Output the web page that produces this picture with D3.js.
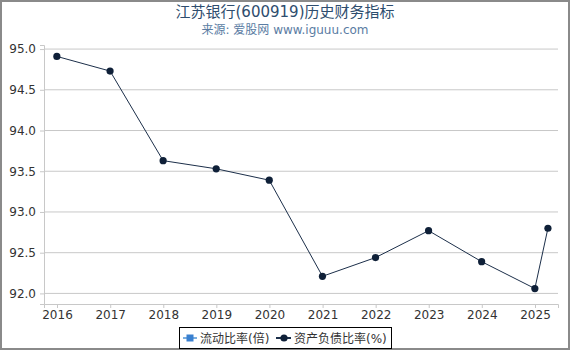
<!DOCTYPE html>
<html><head><meta charset="utf-8">
<script src="https://cdn.jsdelivr.net/npm/d3@7/dist/d3.min.js"></script>
<style>
body{margin:0;background:#fff;}
svg{display:block;font-family:"DejaVu Sans","Noto Sans CJK SC",sans-serif;}
</style></head><body>
<svg id="c" width="570" height="350"></svg>
<script>
const dates = ["2015-12-31","2016-12-31","2017-12-31","2018-12-31","2019-12-31","2020-12-31","2021-12-31","2022-12-31","2023-12-31","2024-12-31","2025-03-31"];
const debtRatio = [94.91,94.73,93.63,93.53,93.39,92.21,92.44,92.77,92.39,92.06,92.80];
const currentRatio = [];
const yTicks = [92.0,92.5,93.0,93.5,94.0,94.5,95.0];
const xTickYears = [2016,2017,2018,2019,2020,2021,2022,2023,2024,2025];
const seriesNames = ["流动比率(倍)","资产负债比率(%)"];

(function(){
const svg = d3.select("#c");
const W=570,H=350;
svg.append("rect").attr("x",1).attr("y",1).attr("width",W-2).attr("height",H-2).attr("fill","#fff").attr("stroke","#8a8a8a").attr("stroke-width",2);

svg.append("text").attr("x",285).attr("y",17).attr("text-anchor","middle").attr("font-size",15).attr("fill","#2e4d6e").text("江苏银行(600919)历史财务指标");
svg.append("text").attr("x",285).attr("y",34).attr("text-anchor","middle").attr("font-size",12).attr("fill","#5a7ca3").text("来源: 爱股网 www.iguuu.com");

const pl=44,pr=558,pt=45,pb=304;
const parse=d3.timeParse("%Y-%m-%d");
const x=d3.scaleTime().domain([new Date(2016,0,1),new Date(2025,0,1)]).range([57,535]);
const x0=x.invert(pl), x1=x.invert(pr);
x.domain([x0,x1]).range([pl,pr]);
const y=d3.scaleLinear().domain([91.87,95.05]).range([pb,pt]);

svg.append("g").selectAll("line").data(yTicks).join("line")
 .attr("x1",pl).attr("x2",pr).attr("y1",d=>y(d)).attr("y2",d=>y(d))
 .attr("stroke","#c8c8c8").attr("stroke-width",1);

const ya=svg.append("g").attr("transform",`translate(${pl},0)`)
 .call(d3.axisLeft(y).tickValues(yTicks).tickFormat(d3.format(".1f")).tickSize(4).tickPadding(4));
ya.select(".domain").attr("stroke","#c8c8c8");
ya.selectAll(".tick line").attr("stroke","#c8c8c8");
ya.selectAll("text").attr("font-size",12).attr("fill","#333").attr("font-family","DejaVu Sans");

const xa=svg.append("g").attr("transform",`translate(0,${pb})`)
 .call(d3.axisBottom(x).tickValues(xTickYears.map(v=>new Date(v,0,1))).tickFormat(d3.timeFormat("%Y")).tickSize(4).tickPadding(2));
xa.select(".domain").attr("stroke","#c8c8c8");
xa.selectAll(".tick line").attr("stroke","#c8c8c8");
xa.selectAll("text").attr("font-size",12).attr("fill","#333").attr("font-family","DejaVu Sans");

const pts=dates.map((d,i)=>({d:parse(d),v:debtRatio[i]}));
svg.append("path").datum(pts).attr("fill","none").attr("stroke","#1c2f4a").attr("stroke-width",1)
 .attr("d",d3.line().x(p=>x(p.d)).y(p=>y(p.v)));
svg.append("g").selectAll("circle").data(pts).join("circle")
 .attr("cx",p=>x(p.d)).attr("cy",p=>y(p.v)).attr("r",3.6).attr("fill","#0f2038");

const lg=svg.append("g");
lg.append("rect").attr("x",179.5).attr("y",327.5).attr("width",212).attr("height",21).attr("fill","#fff").attr("stroke","#000").attr("stroke-width",1);
lg.append("line").attr("x1",183).attr("x2",197).attr("y1",338).attr("y2",338).attr("stroke","#7aaee0").attr("stroke-width",2);
lg.append("rect").attr("x",186.5).attr("y",334.5).attr("width",7).attr("height",7).attr("fill","#3a80d0");
lg.append("text").attr("x",200).attr("y",342.5).attr("font-size",12).attr("fill","#333").text(seriesNames[0]);
lg.append("line").attr("x1",276).attr("x2",291).attr("y1",338).attr("y2",338).attr("stroke","#1c2f4a").attr("stroke-width",2);
lg.append("circle").attr("cx",284).attr("cy",338).attr("r",3.6).attr("fill","#0f2038");
lg.append("text").attr("x",294).attr("y",342.5).attr("font-size",12).attr("fill","#333").text(seriesNames[1]);
})();
</script></body></html>
